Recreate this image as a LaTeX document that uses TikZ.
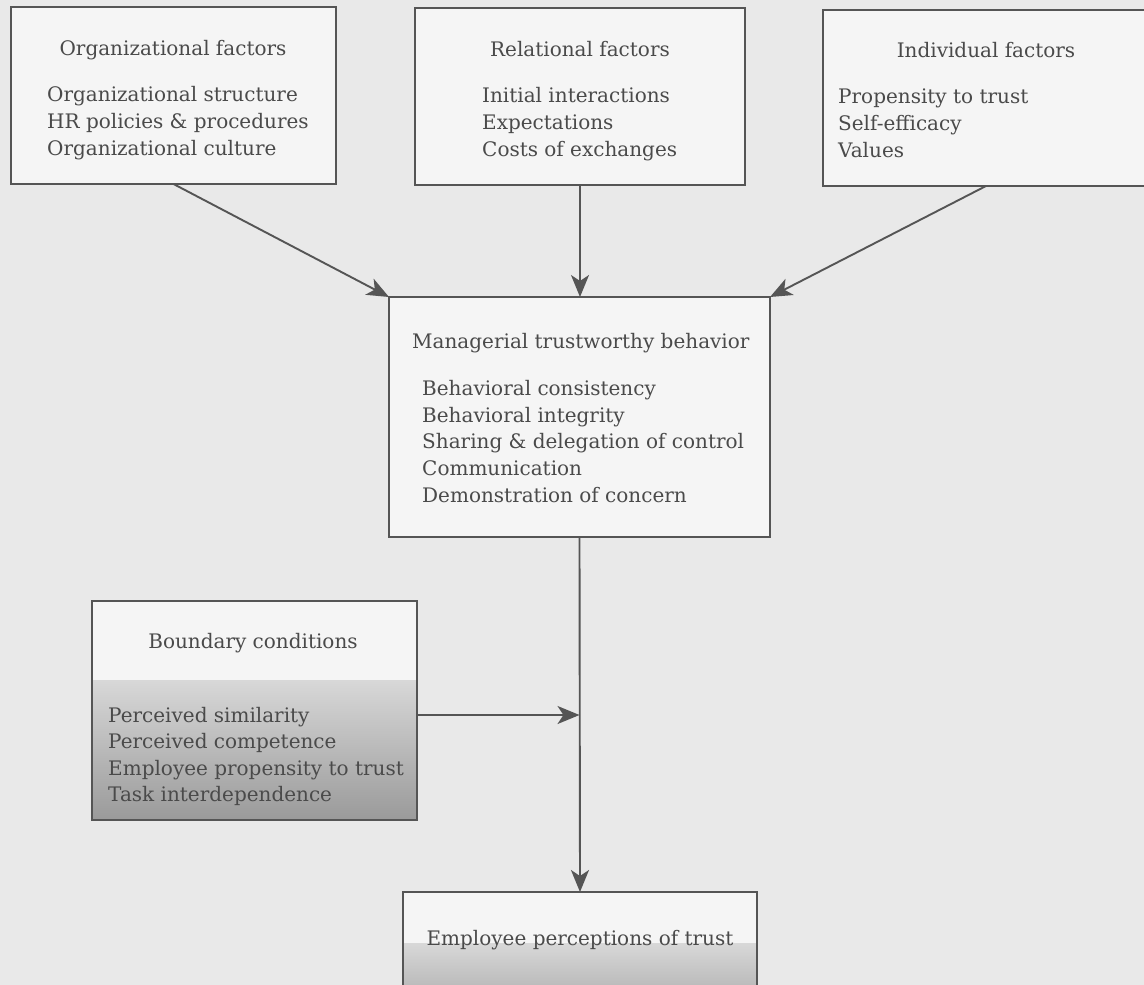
\documentclass[tikz,border=0pt]{standalone}
\usepackage{fontspec}
\setmainfont{DejaVu Serif}
\usetikzlibrary{arrows.meta}
\definecolor{bg}{HTML}{E9E9E9}
\definecolor{boxfill}{HTML}{F5F5F5}
\definecolor{ln}{HTML}{555555}
\definecolor{tx}{HTML}{4A4A4A}
\definecolor{shadetop}{HTML}{D8D8D8}
\definecolor{shadebot}{HTML}{9A9A9A}
\begin{document}
\begin{tikzpicture}[x=1pt,y=-1pt,
  box/.style={draw=ln, line width=1.4pt, fill=boxfill, inner sep=0pt, outer sep=0pt},
  conn/.style={draw=ln, line width=1.9pt, -{Stealth[length=22pt,width=18pt,inset=6pt]}},
  txt/.style={text=tx, font=\fontsize{20}{24}\selectfont, inner sep=0pt},
  ttl/.style={txt, anchor=base},
  itm/.style={txt, anchor=base west},
]
\fill[bg] (0,0) rectangle (1144,985);
\useasboundingbox (0,0) rectangle (1144,985);

% boxes
\node[box, minimum width=325pt, minimum height=177pt] (org) at (173.5,95.5) {};
\node[box, minimum width=330pt, minimum height=177pt] (rel) at (580,96.5) {};
\node[box, minimum width=326pt, minimum height=176pt] (ind) at (986,98) {};
\node[box, minimum width=381pt, minimum height=240pt] (mgr) at (579.5,417) {};
\node[box, minimum width=325pt, minimum height=219pt] (bnd) at (254.5,710.5) {};
\node[box, minimum width=354pt, minimum height=120pt] (emp) at (580,952) {};

% shading of the lower parts
\shade[top color=shadetop, bottom color=shadebot] ([yshift=-79pt]bnd.north west) rectangle (bnd.south east);
\draw[ln, line width=1.4pt] (bnd.north west) rectangle (bnd.south east);
\shade[top color=shadetop, bottom color=shadebot!85!white] ([yshift=-51pt]emp.north west) rectangle (emp.south east);
\draw[ln, line width=1.4pt] (emp.north west) rectangle (emp.south east);

% organizational
\node[ttl] (orgT) at (173,55) {Organizational factors};
\node[itm] (org1) at (47,101) {Organizational structure};
\node[itm] (org2) at (47,128) {HR policies \& procedures};
\node[itm] (org3) at (47,155) {Organizational culture};
% relational
\node[ttl] (relT) at (580,56) {Relational factors};
\node[itm] (rel1) at (482,102) {Initial interactions};
\node[itm] (rel2) at (482,129) {Expectations};
\node[itm] (rel3) at (482,156) {Costs of exchanges};
% individual
\node[ttl] (indT) at (986,57) {Individual factors};
\node[itm] (ind1) at (838,103) {Propensity to trust};
\node[itm] (ind2) at (838,130) {Self-efficacy};
\node[itm] (ind3) at (838,157) {Values};
% managerial
\node[itm] (mgrT) at (412,348) {Managerial trustworthy behavior};
\node[itm] (mgr1) at (422,395) {Behavioral consistency};
\node[itm] (mgr2) at (422,422) {Behavioral integrity};
\node[itm] (mgr3) at (422,448) {Sharing \& delegation of control};
\node[itm] (mgr4) at (422,475) {Communication};
\node[itm] (mgr5) at (422,502) {Demonstration of concern};
% boundary
\node[ttl] (bndT) at (253,648) {Boundary conditions};
\node[itm] (bnd1) at (108,722) {Perceived similarity};
\node[itm] (bnd2) at (108,748) {Perceived competence};
\node[itm] (bnd3) at (108,775) {Employee propensity to trust};
\node[itm] (bnd4) at (108,801) {Task interdependence};
% employee
\node[ttl] (empT) at (580,945) {Employee perceptions of trust};

% connectors
\draw[conn] (org.south) -- (mgr.north west);
\draw[conn] (rel.south) -- (rel.south |- mgr.north);
\draw[conn] (ind.south) -- (mgr.north east);
\draw[conn] (mgr.south) -- (emp.north);
\coordinate (bndOut) at ([yshift=-4.5pt]bnd.east);
\draw[conn] (bndOut) -- (bndOut -| mgr.south);
\end{tikzpicture}
\end{document}
